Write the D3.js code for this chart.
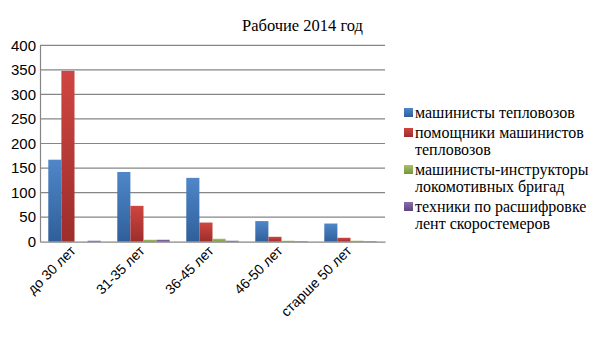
<!DOCTYPE html>
<html><head><meta charset="utf-8">
<script src="https://cdn.jsdelivr.net/npm/d3@7"></script>
<style>body{margin:0;background:#fff}</style>
</head><body>
<script>
const categories = ["до 30 лет","31-35 лет","36-45 лет","46-50 лет","старше 50 лет"];
const seriesNames = ["машинисты тепловозов","помощники машинистов тепловозов","машинисты-инструкторы локомотивных бригад","техники по расшифровке лент скоростемеров"];
const machinists = [167, 142, 130, 42, 37];
const assistants = [348, 73, 39, 10, 8];
const instructors = [0, 4, 6, 2, 2];
const technicians = [2, 4, 2, 1, 1];
const yTicks = [0,50,100,150,200,250,300,350,400];
const legendLines = [["машинисты тепловозов"],["помощники машинистов","тепловозов"],["машинисты-инструкторы","локомотивных бригад"],["техники по расшифровке","лент скоростемеров"]];
const series = [machinists, assistants, instructors, technicians];
const colors = [["#4f87c9","#2f5f9a"],["#cf4541","#9c2e2b"],["#a5c463","#76933c"],["#8a6cb0","#5c4680"]];

const W=605,H=340;
const svg=d3.select("body").append("svg").attr("width",W).attr("height",H);
const defs=svg.append("defs");
colors.forEach((c,i)=>{
  const g=defs.append("linearGradient").attr("id","g"+i).attr("x1",0).attr("y1",0).attr("x2",0).attr("y2",1);
  g.append("stop").attr("offset","0%").attr("stop-color",c[0]);
  g.append("stop").attr("offset","100%").attr("stop-color",c[1]);
});
const L=40,R=385,T=45.3,B=241.7;
const x=d3.scaleBand().domain(categories).range([L,R]).paddingInner(0.24).paddingOuter(0.12);
const y=d3.scaleLinear().domain([0,400]).range([B,T]);
const x1=d3.scaleBand().domain(d3.range(4)).range([0,x.bandwidth()]);

svg.append("text").attr("x",302.5).attr("y",31).attr("text-anchor","middle")
  .attr("font-family","'Liberation Serif', serif").attr("font-size",16.5).attr("fill","#000").text("Рабочие 2014 год");

// gridlines
svg.append("g").selectAll("line").data(yTicks.filter(d=>d>0)).join("line")
  .attr("x1",L).attr("x2",R).attr("y1",d=>y(d)).attr("y2",d=>y(d))
  .attr("stroke","#868686").attr("stroke-width",1.2);

// y axis
const ya=svg.append("g").attr("transform",`translate(${L},0)`).call(d3.axisLeft(y).tickValues(yTicks).tickSize(0).tickPadding(4));
ya.select(".domain").attr("stroke","#868686").attr("stroke-width",1.2);
ya.selectAll("text").attr("font-family","'Liberation Sans', sans-serif").attr("font-size",15).attr("fill","#000");

// bars
series.forEach((s,i)=>{
  svg.append("g").selectAll("rect").data(s).join("rect")
    .attr("x",(d,j)=>x(categories[j])+x1(i))
    .attr("width",x1.bandwidth())
    .attr("y",d=>y(d)).attr("height",d=>B-y(d))
    .attr("fill",`url(#g${i})`);
});

// x axis
const xa=svg.append("g").attr("transform",`translate(0,${B})`).call(d3.axisBottom(x).tickSize(0).tickPadding(0));
xa.select(".domain").attr("stroke","#868686").attr("stroke-width",1.2);
xa.selectAll("text").attr("font-family","'Liberation Sans', sans-serif").attr("font-size",14).attr("fill","#000")
  .attr("text-anchor","end").attr("dy",0)
  .attr("transform","translate(2,10) rotate(-45)");

// legend
const lg=svg.append("g");
let yy=118;
legendLines.forEach((lines,i)=>{
  lg.append("rect").attr("x",404).attr("y",yy-10).attr("width",9).attr("height",9).attr("fill",`url(#g${i})`);
  const t=lg.append("text").attr("font-family","'Liberation Serif', serif").attr("font-size",16).attr("fill","#000");
  lines.forEach((ln,k)=>{
    t.append("tspan").attr("x",415).attr("y",yy+k*17).text(ln);
  });
  yy+=lines.length*17+3;
});
</script>
</body></html>
